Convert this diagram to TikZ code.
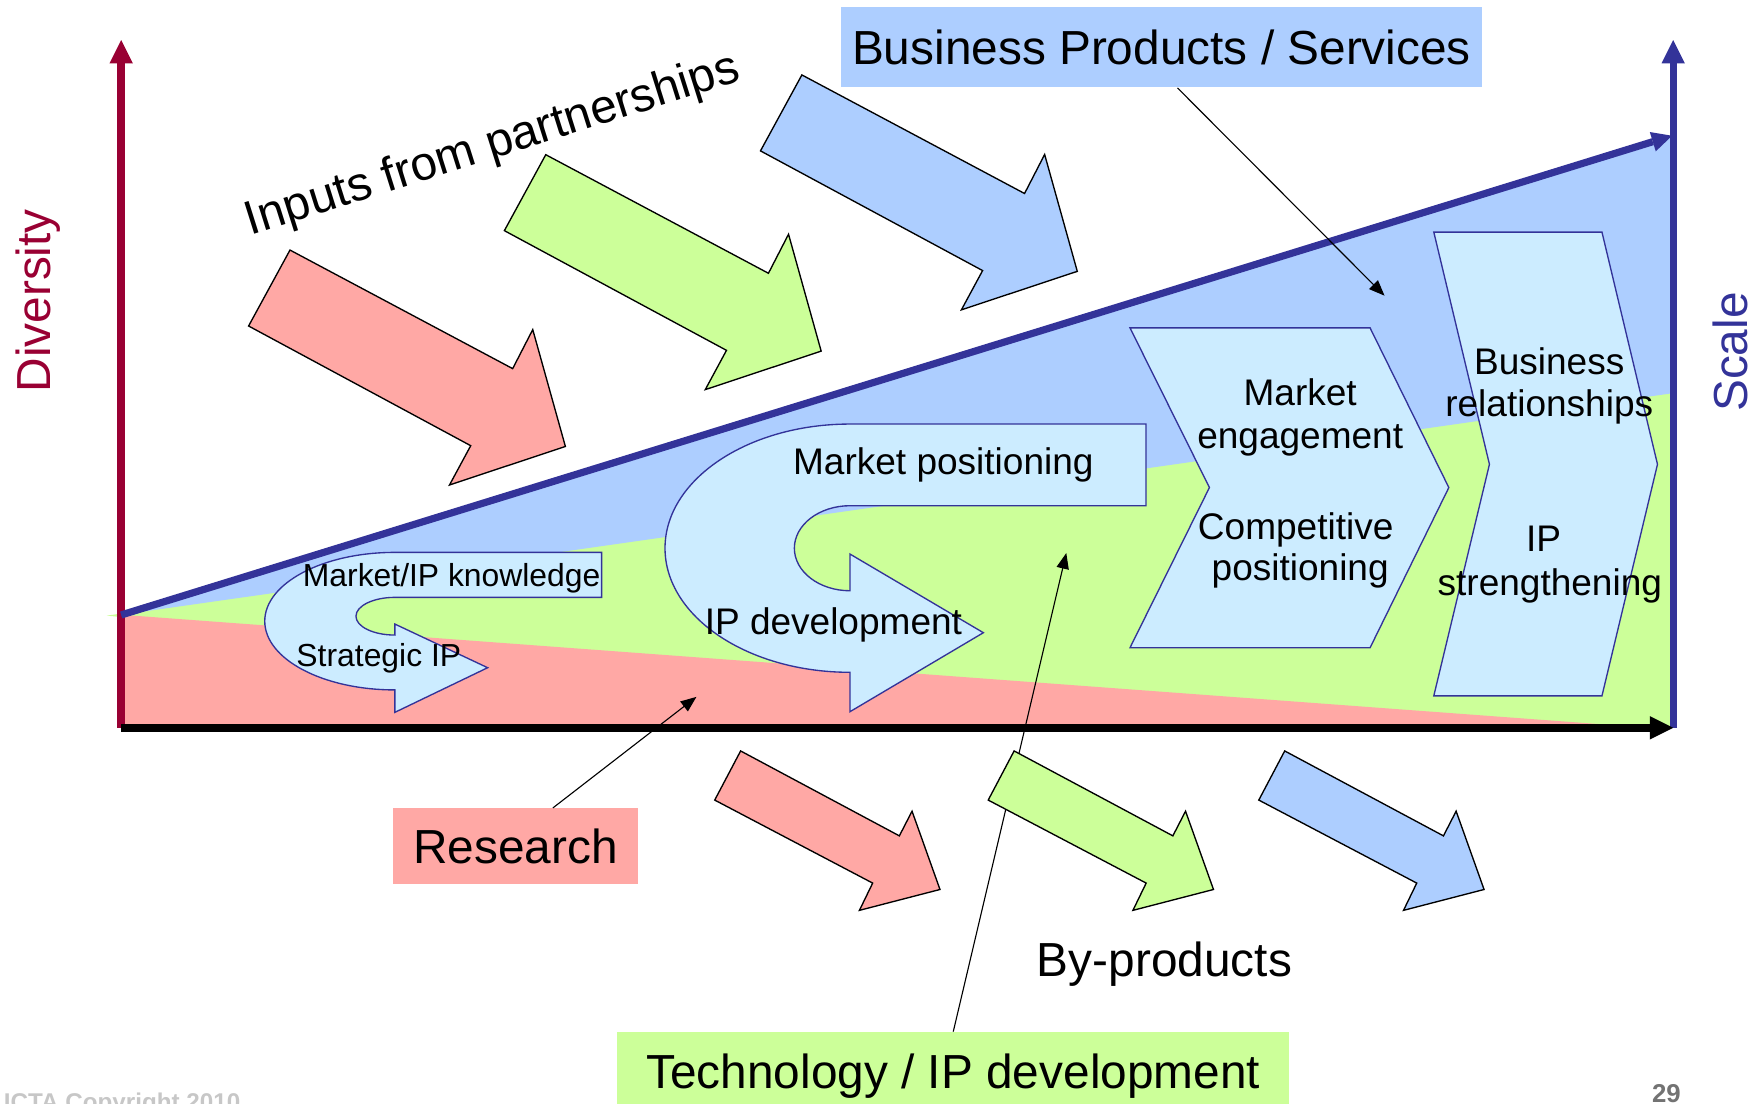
\documentclass[tikz,border=0pt]{standalone}
\usepackage{fontspec}
\setmainfont{Liberation Sans}
\usetikzlibrary{arrows.meta}
\definecolor{pinkc}{RGB}{255,168,165}
\definecolor{greenc}{RGB}{204,255,153}
\definecolor{bluec}{RGB}{173,206,255}
\definecolor{cyanc}{RGB}{204,236,255}
\definecolor{navyc}{RGB}{51,51,153}
\definecolor{redc}{RGB}{153,0,51}
\begin{document}
\begin{tikzpicture}[x=0.5pt,y=-0.5pt,
  bigfont/.style={font=\fontsize{21.3pt}{25pt}\selectfont},
  midfont/.style={font=\fontsize{16.5pt}{19pt}\selectfont},
  smallfont/.style={font=\fontsize{14.2pt}{17pt}\selectfont},
  txt/.style={inner sep=0pt, anchor=base},
  axisline/.style={line width=3.3pt, -{Triangle[length=10.4pt,width=10.4pt,line width=0pt]}},
  blockarrow/.style={draw=black, line width=0.6pt, line join=miter},
  panel/.style={draw=navyc, fill=cyanc, line width=0.6pt, line join=miter},
  conn/.style={draw=black, line width=0.5pt, -{Triangle[length=7pt,width=5.5pt]}},
  labelbox/.style={inner sep=0pt, bigfont},
]
\useasboundingbox (0,0) rectangle (1568,984);
\clip (0,0) rectangle (1568,984);

% background regions
\fill[greenc] (95,548.8) -- (1491,350) -- (1491,648) -- (108,648) -- (108,550) -- cycle;
\fill[bluec] (108,548) -- (1491,121) -- (1491,350.5) -- cycle;
\fill[pinkc] (108,548) -- (1460,648) -- (108,648) -- cycle;

% axes
\draw[axisline, redc] (108,648.8) -- (108,35.7);
\draw[axisline, navyc] (1491.5,648.8) -- (1491.5,35.7);
\draw[axisline, black] (108,648.8) -- (1491.5,648.8);
\draw[navyc, line width=3.2pt, -{Triangle[length=9pt,width=9pt,line width=0pt]}] (108,548.2) -- (1490.5,121);

% U-turn arrows
\draw[panel] (536.3,492.4) -- (352,492.4)
  arc[start angle=270, end angle=90, x radius=116, y radius=61.3]
  -- (352,635) -- (434.7,595.2) -- (352,556.3) -- (352,566.1)
  arc[start angle=90, end angle=270, x radius=34.7, y radius=16.8]
  -- (536.3,532.5) -- cycle;
\draw[panel] (1021.6,378) -- (757.7,378)
  arc[start angle=270, end angle=90, x radius=164.9, y radius=110.65]
  -- (757.7,634.4) -- (876.6,564) -- (757.7,493.9) -- (757.7,526.6)
  arc[start angle=90, end angle=270, x radius=49.6, y radius=37.9]
  -- (1021.6,450.8) -- cycle;

% chevrons
\draw[panel] (1007.3,292.3) -- (1221.3,292.3) -- (1291.5,434.6) -- (1221.3,577.4) -- (1007.3,577.4) -- (1078.1,434.6) -- cycle;
\draw[panel] (1278.1,206.9) -- (1428,206.9) -- (1477.5,413.9) -- (1428,620.3) -- (1278.1,620.3) -- (1327.7,413.9) -- cycle;

% input arrows
\foreach \dx/\dy/\c in {0/0/pinkc, 228/-85/greenc, 456.3/-156.1/bluec}{
  \draw[blockarrow, fill=\c, shift={(\dx,\dy)}] (258.5,222.9) -- (221.6,290.6) -- (419.6,397.3) -- (400.7,432.3) -- (504,398) -- (474.9,293.8) -- (457,328.6) -- cycle;
}

% label boxes
\node[labelbox, fill=bluec, minimum width=285.65pt, minimum height=35.8pt] (bps) at (1035.35,42.2) {Business Products / Services};
\node[labelbox, fill=pinkc, minimum width=108.95pt, minimum height=33.85pt] (res) at (459.55,754.45) {Research};
\node[labelbox, fill=greenc, minimum width=299.65pt, minimum height=38.9pt] (tech) at (849.75,958.9) {Technology / IP development};

% connectors
\coordinate (bpsend) at (1234.2,263.6);
\coordinate (resend) at (620.8,621.2);
\coordinate (techend) at (950.5,493);
\draw[conn] ([xshift=7.15pt]bps.south) -- (bpsend);
\draw[conn] ([xshift=16.65pt]res.north) -- (resend);
\draw[conn] (tech.north) -- (techend);

% by-product arrows
\foreach \dx/\c in {0/pinkc, 243.8/greenc, 485/bluec}{
  \draw[blockarrow, fill=\c, shift={(\dx,0)}] (660.2,669.4) -- (637.1,713.2) -- (777.9,787.2) -- (766.1,811.5) -- (837.9,792.9) -- (813,723.1) -- (801.7,745.1) -- cycle;
}

% texts
\node[txt, bigfont, rotate=17.5, anchor=base west] (inputs) at (223.1,210) {Inputs from partnerships};
\node[txt, bigfont, rotate=90, text=redc] (div) at (45,268.2) {Diversity};
\node[txt, bigfont, rotate=90, text=navyc] (scl) at (1558,313.8) {Scale};
\node[txt, bigfont] (byp) at (1038,870.2) {By-products};

\node[txt, smallfont] (mipk) at (402.6,523) {Market/IP knowledge};
\node[txt, smallfont] (sip) at (337.7,594.3) {Strategic IP};
\node[txt, midfont] (mpos) at (840.9,423.4) {Market positioning};
\node[txt, midfont] (ipdev) at (742.9,565.2) {IP development};
\node[txt, midfont] (meng1) at (1159,361.4) {Market};
\node[txt, midfont] (meng2) at (1159,399.6) {engagement};
\node[txt, midfont] (cpos1) at (1155,481) {Competitive};
\node[txt, midfont] (cpos2) at (1159,517.5) {positioning};
\node[txt, midfont] (brel1) at (1381,333.5) {Business};
\node[txt, midfont] (brel2) at (1381,371) {relationships};
\node[txt, midfont] (ips1) at (1376,492) {IP};
\node[txt, midfont] (ips2) at (1381.5,531) {strengthening};

\node[inner sep=0pt, anchor=base west, font=\bfseries\fontsize{10.8pt}{12pt}\selectfont, text=black!22] (copy) at (3,990) {ICTA Copyright 2010};
\node[txt, font=\bfseries\fontsize{11.5pt}{13pt}\selectfont, text=black!55] (pg) at (1485.5,982.6) {29};
\end{tikzpicture}
\end{document}
